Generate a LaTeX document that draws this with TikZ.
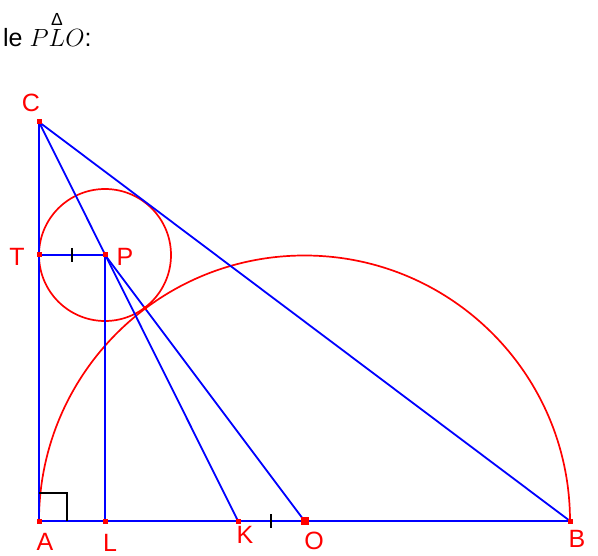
\documentclass[tikz,border=0pt]{standalone}
\usepackage{amsmath}
\usepackage{fontspec}
\setmainfont{Liberation Sans}
\usetikzlibrary{calc}

\begin{document}
\begin{tikzpicture}[
    x=1pt, y=-1pt,
    seg/.style={blue, line width=1.8pt},
    curve/.style={red, line width=1.7pt},
    tickline/.style={black, line width=1.6pt},
    ptmark/.style={rectangle, fill=red, draw=none, minimum size=5pt, inner sep=0pt},
    bigmark/.style={ptmark, minimum size=8pt},
    ptlabel/.style={text=red, font=\fontsize{25}{30}\selectfont, inner sep=0pt},
]
\useasboundingbox (0,0) rectangle (598,556);

% --- Heading ---
\node[anchor=base west, font=\fontsize{25}{30}\selectfont, inner sep=0pt]
    (heading) at (3,47) {le $\overset{\text{Δ}}{PLO}$:};

% --- Points ---
\coordinate (A) at (39,521);
\coordinate (B) at (570,521);
\coordinate (O) at (304.5,521);
\coordinate (C) at (39,122);
\coordinate (T) at (39,255);
\coordinate (P) at (105,255);
\coordinate (L) at (105,521);
\coordinate (K) at (238,521);
\coordinate (H) at ($(P)!66pt!(O)$);

% --- Circles ---
\draw[curve] (P) circle[radius=66];
\draw[curve] (B) arc[start angle=0, end angle=-180, radius=265.5];

% --- Segments ---
\draw[seg] (A) -- (B) -- (C) -- cycle;
\draw[seg] (C) -- (K);
\draw[seg] (T) -- (P) -- (L);
\draw[seg] (P) -- (O);

% --- Right angle and equal ticks ---
\draw[tickline] ($(A)+(0,-28)$) -| ($(A)+(28,0)$);
\draw[tickline] ($(T)!0.5!(P)+(0,-7)$) -- ($(T)!0.5!(P)+(0,7)$);
\draw[tickline] ($(K)!0.5!(O)+(0,-7)$) -- ($(K)!0.5!(O)+(0,7)$);

% --- Marks ---
\foreach \p in {A,B,C,T,P,L,K}
    \node[ptmark] (m\p) at (\p) {};
\node[bigmark] (mO) at (O) {};
\node[ptmark, minimum size=4pt] (mH) at (H) {};

% --- Labels ---
\node[ptlabel] (lC) at (31,103) {C};
\node[ptlabel] (lT) at (17,257) {T};
\node[ptlabel] (lP) at (125,257) {P};
\node[ptlabel] (lA) at (45,542) {A};
\node[ptlabel] (lL) at (110,543) {L};
\node[ptlabel] (lK) at (245,535) {K};
\node[ptlabel] (lO) at (314,541) {O};
\node[ptlabel] (lB) at (577,539) {B};

\end{tikzpicture}
\end{document}
